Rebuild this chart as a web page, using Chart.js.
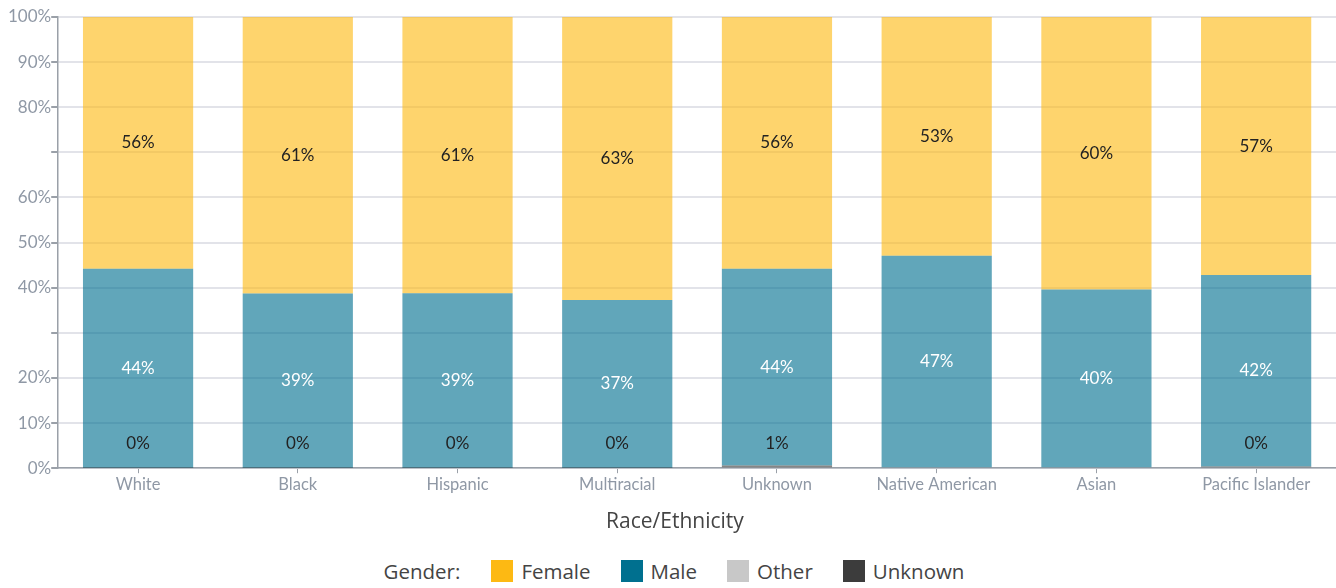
<!DOCTYPE html>
<html>
<head>
<meta charset="utf-8">
<script src="https://cdn.jsdelivr.net/npm/chart.js@4/dist/chart.umd.min.js"></script>
<style>
  html, body { margin: 0; padding: 0; background: #fff; }
  body { width: 1336px; height: 588px; overflow: hidden; font-family: "Open Sans", Lato, sans-serif; position: relative; }
  #wrap { position: relative; width: 1336px; height: 551px; }
  #xtitle { position: absolute; left: 475px; width: 400px; top: 507px; text-align: center; font-size: 21px; line-height: 26px; color: #444; }
  #legend { display: flex; justify-content: center; align-items: center; height: 40px; font-size: 20.5px; color: #444; padding-left: 42px; }
  #legend .title { margin-right: 31px; }
  #legend .item { display: flex; align-items: center; margin-right: 30px; }
  #legend .box { width: 22px; height: 22px; margin-right: 8px; }
</style>
</head>
<body>
<div id="wrap"><canvas id="c"></canvas></div>
<div id="xtitle"></div>
<div id="legend"></div>
<script>
const categories = ["White", "Black", "Hispanic", "Multiracial", "Unknown", "Native American", "Asian", "Pacific Islander"];
const femaleValues  = [55.8, 61.3, 61.2, 62.7, 55.8, 52.9, 60.4, 57.2];
const maleValues    = [44.1, 38.6, 38.7, 37.2, 43.6, 47.1, 39.6, 42.4];
const otherValues   = [null, null, null, null, null, null, null, null];
const unknownValues = [0.1, 0.1, 0.1, 0.1, 0.6, null, null, 0.4];
const yTickValues   = [0, 10, 20, 30, 40, 50, 60, 70, 80, 90, 100];
const hiddenTickLabels = [30, 70];
const xAxisTitle = "Race/Ethnicity";
const legendTitle = "Gender:";

const baseColors = { Female: [253,185,19], Male: [0,112,143], Other: [200,200,200], Unknown: [60,60,60] };
const labelColors = { Female: "#222", Male: "#ffffff", Other: "#222", Unknown: "#222" };
const rgba = (c, a) => `rgba(${c[0]},${c[1]},${c[2]},${a})`;

const series = [
  { label: "Unknown", data: unknownValues },
  { label: "Other", data: otherValues },
  { label: "Male", data: maleValues },
  { label: "Female", data: femaleValues }
];

const labelPlugin = {
  id: "segLabels",
  afterDatasetsDraw(chart) {
    const ctx = chart.ctx;
    ctx.save();
    ctx.font = "17px Lato, 'Open Sans', sans-serif";
    ctx.textAlign = "center";
    ctx.textBaseline = "middle";
    chart.data.datasets.forEach((ds, di) => {
      const meta = chart.getDatasetMeta(di);
      meta.data.forEach((el, i) => {
        const v = ds.data[i];
        if (v === null || v === undefined) return;
        const h = Math.abs(el.base - el.y);
        let y = (el.y + el.base) / 2;
        if (h < 30) y = el.base - 24;
        ctx.fillStyle = labelColors[ds.label];
        ctx.fillText(Math.round(v) + "%", el.x, y);
      });
    });
    ctx.restore();
  }
};

new Chart(document.getElementById("c"), {
  type: "bar",
  data: {
    labels: categories,
    datasets: series.map(s => ({
      label: s.label,
      data: s.data,
      backgroundColor: rgba(baseColors[s.label], 0.62),
      borderWidth: 0,
      categoryPercentage: 1,
      barPercentage: 0.69
    }))
  },
  options: {
    responsive: true,
    maintainAspectRatio: false,
    animation: false,
    layout: { padding: { top: 17, right: 0, left: 8, bottom: 54 } },
    plugins: { legend: { display: false }, tooltip: { enabled: false } },
    scales: {
      x: {
        stacked: true,
        border: { display: true, color: "#9aa0a8", width: 1.5 },
        grid: { display: true, drawOnChartArea: false, offset: false, tickColor: "#9aa0a8", tickLength: 5 },
        ticks: { color: "#8f98a5", font: { size: 16.5, family: "Lato, 'Open Sans', sans-serif" }, padding: 2, maxRotation: 0, autoSkip: false }
      },
      y: {
        stacked: true,
        min: 0, max: 100,
        afterBuildTicks(axis) { axis.ticks = yTickValues.map(v => ({ value: v })); },
        border: { display: true, color: "#9aa0a8", width: 1.5 },
        grid: { color: "#e2e3e9", lineWidth: 2, tickColor: "#9aa0a8", tickLength: 7 },
        ticks: {
          color: "#8f98a5",
          font: { size: 17, family: "Lato, 'Open Sans', sans-serif" },
          padding: 0,
          callback: v => hiddenTickLabels.includes(v) ? "" : v + "%"
        }
      }
    }
  },
  plugins: [labelPlugin]
});

document.getElementById("xtitle").textContent = xAxisTitle;
const legendEl = document.getElementById("legend");
const t = document.createElement("span");
t.className = "title"; t.textContent = legendTitle;
legendEl.appendChild(t);
series.slice().reverse().forEach(s => {
  const it = document.createElement("span"); it.className = "item";
  const b = document.createElement("span"); b.className = "box";
  b.style.background = rgba(baseColors[s.label], 1);
  const tx = document.createElement("span"); tx.textContent = s.label;
  it.appendChild(b); it.appendChild(tx);
  legendEl.appendChild(it);
});
</script>
</body>
</html>
